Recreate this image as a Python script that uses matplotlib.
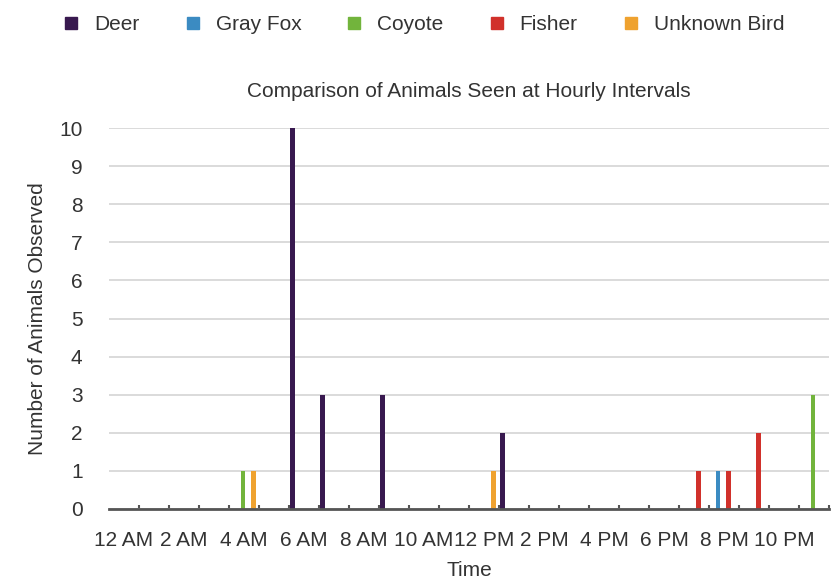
import numpy as np
import matplotlib
matplotlib.use("Agg")
import matplotlib.pyplot as plt
from matplotlib.lines import Line2D

plt.rcParams['font.family'] = ['Liberation Sans', 'DejaVu Sans']

hours = ["12 AM", "1 AM", "2 AM", "3 AM", "4 AM", "5 AM", "6 AM", "7 AM", "8 AM", "9 AM",
         "10 AM", "11 AM", "12 PM", "1 PM", "2 PM", "3 PM", "4 PM", "5 PM", "6 PM", "7 PM",
         "8 PM", "9 PM", "10 PM", "11 PM"]

species = ["Deer", "Gray Fox", "Coyote", "Fisher", "Unknown Bird"]
colors = ["#38194f", "#3b8bc2", "#72b43c", "#d1312b", "#efa22f"]

deer = [0, 0, 0, 0, 0, 0, 10, 3, 0, 3, 0, 0, 0, 2, 0, 0, 0, 0, 0, 0, 0, 0, 0, 0]
gray_fox = [0, 0, 0, 0, 0, 0, 0, 0, 0, 0, 0, 0, 0, 0, 0, 0, 0, 0, 0, 0, 1, 0, 0, 0]
coyote = [0, 0, 0, 0, 1, 0, 0, 0, 0, 0, 0, 0, 0, 0, 0, 0, 0, 0, 0, 0, 0, 0, 0, 3]
fisher = [0, 0, 0, 0, 0, 0, 0, 0, 0, 0, 0, 0, 0, 0, 0, 0, 0, 0, 0, 1, 1, 2, 0, 0]
unknown_bird = [0, 0, 0, 0, 1, 0, 0, 0, 0, 0, 0, 0, 1, 0, 0, 0, 0, 0, 0, 0, 0, 0, 0, 0]

series = [deer, gray_fox, coyote, fisher, unknown_bird]

fig = plt.figure(figsize=(8.4, 5.82), dpi=100)
ax = fig.add_axes([109 / 840, 1 - 509 / 582, 720 / 840, 381 / 582])

x = np.arange(len(hours))
slot = 0.177
width = 0.15
for i, (vals, color) in enumerate(zip(series, colors)):
    ax.bar(x + (i - 2) * slot - 0.03, vals, width=width, color=color, zorder=3)

ax.set_xlim(-0.5, len(hours) - 0.5)
ax.set_ylim(0, 10)
ax.set_yticks(range(0, 11))

# labels every 2 hours, small boundary ticks between hours
ax.set_xticks(x[::2])
ax.set_xticklabels(hours[::2])
ax.set_xticks(np.arange(0.5, len(hours)), minor=True)
ax.tick_params(axis="x", which="major", length=0, pad=15.5, labelsize=15, colors="#333333")
ax.tick_params(axis="x", which="minor", length=3, width=1.5, direction="in", color="#555555")
ax.tick_params(axis="y", length=0, pad=19, labelsize=15, colors="#333333")

ax.grid(axis="y", color="#d4d4d4", linewidth=1.2, zorder=0)
for side in ["left", "right", "top"]:
    ax.spines[side].set_visible(False)
ax.spines["bottom"].set_color("#555555")
ax.spines["bottom"].set_linewidth(2)
ax.spines["bottom"].set_zorder(4)

ax.set_title("Comparison of Animals Seen at Hourly Intervals", fontsize=15, color="#333333", pad=22.5)
ax.set_xlabel("Time", fontsize=15, color="#333333", labelpad=8.5)
ax.set_ylabel("Number of Animals Observed", fontsize=15, color="#333333", labelpad=9)

handles = [Line2D([], [], marker="s", linestyle="none", markersize=9, color=c) for c in colors]
fig.legend(handles, species, loc="center left", bbox_to_anchor=(63 / 840, 1 - 25 / 582),
           ncol=5, frameon=False, fontsize=15, handlelength=0.8, handletextpad=0.7,
           columnspacing=2.15, borderpad=0, borderaxespad=0, labelcolor="#333333")

fig.savefig("out.png", dpi=100)
